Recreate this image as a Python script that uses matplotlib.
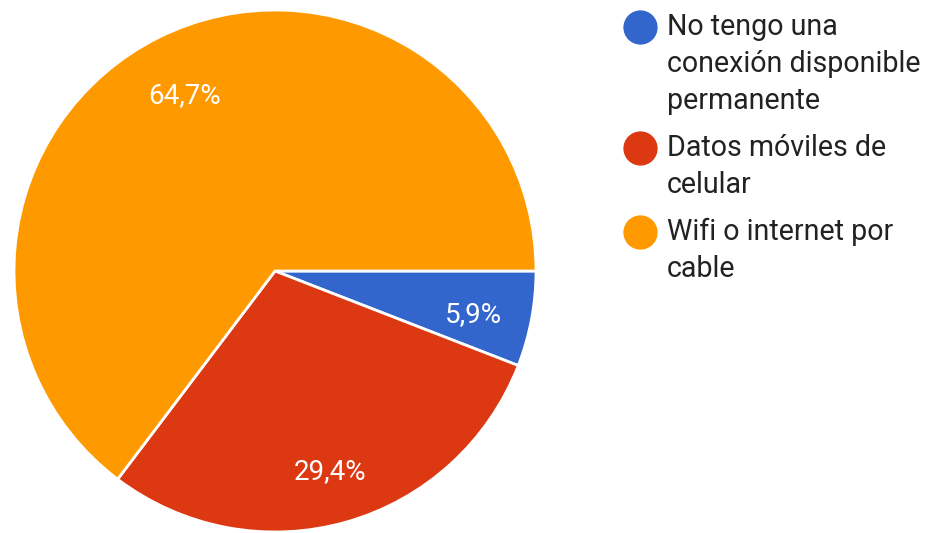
import matplotlib
matplotlib.use("Agg")
import matplotlib.pyplot as plt

# data
categories = [
    "No tengo una\nconexión disponible\npermanente",
    "Datos móviles de\ncelular",
    "Wifi o internet por\ncable",
]
shares = [5.9, 29.4, 64.7]
colors = ["#3366CC", "#DC3912", "#FF9900"]

W, H = 930, 533
fig = plt.figure(figsize=(W/100, H/100), dpi=100)
ax = fig.add_axes([0, 0, 1, 1])

cx, cy, r = 275, H-271, 261

wedges, _, autotexts = ax.pie(
    shares, colors=colors, startangle=0, counterclock=False,
    center=(cx, cy), radius=r, pctdistance=0.775,
    autopct=lambda p: f"{p:.1f}%".replace(".", ","),
    wedgeprops=dict(edgecolor="white", linewidth=2),
    textprops=dict(color="white", fontsize=20, family="Roboto"),
    frame=True,
)
# labels sit a touch lower in the original
for t in autotexts:
    x, y = t.get_position()
    t.set_position((x, y - 6))

ax.set_xlim(0, W)
ax.set_ylim(0, H)
ax.set_aspect("equal")
ax.axis("off")

# legend, drawn by hand so the dot sits on the first line
y = H - 27
line_h = 37
for lab, col in zip(categories, colors):
    ax.scatter([640], [y], s=560, color=col, zorder=3)
    lines = lab.split("\n")
    for i, ln in enumerate(lines):
        ax.text(667, y - i*line_h, ln, fontsize=20.6, family="Roboto",
                color="#222222", va="center", ha="left")
    y -= len(lines)*line_h + 10

fig.savefig("out.png", dpi=100)
